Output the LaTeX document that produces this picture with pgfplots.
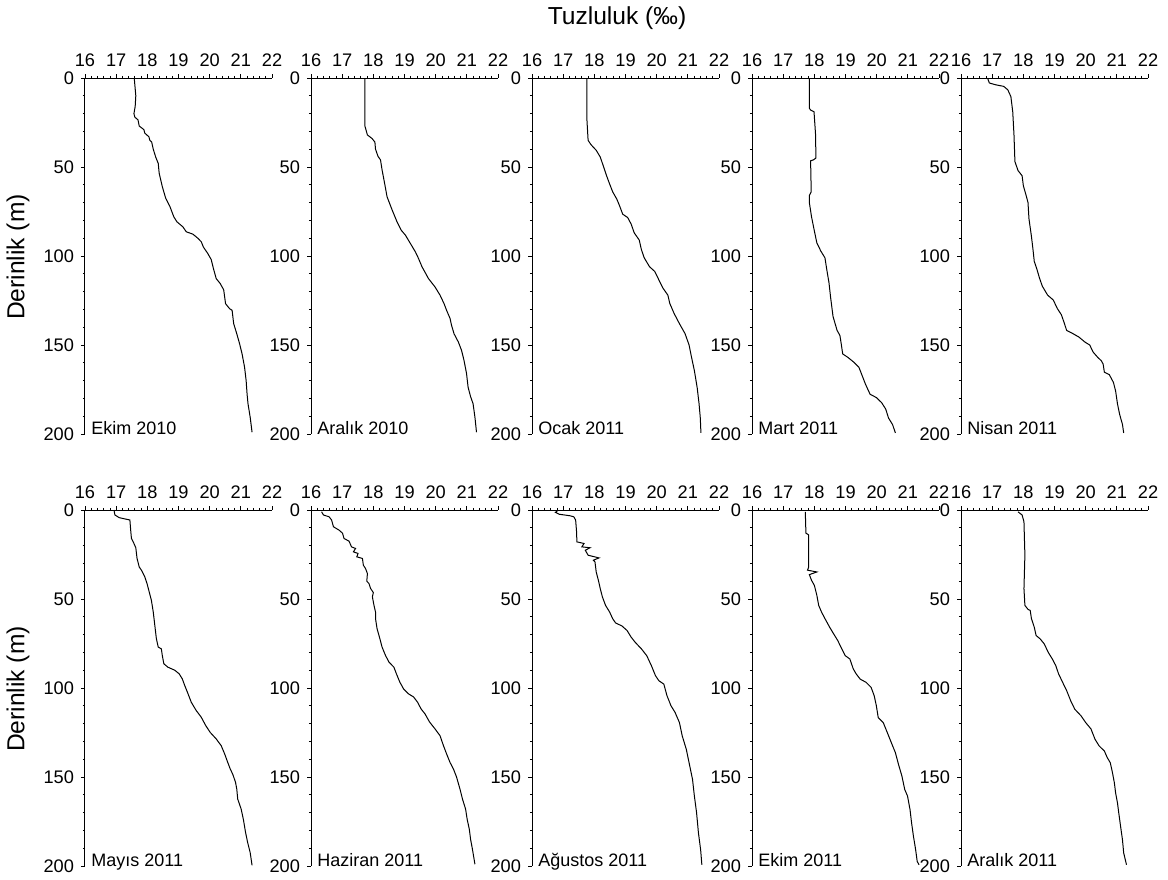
\documentclass[border=0pt]{standalone}
\usepackage{fontspec}
\setmainfont{Liberation Sans}
\usepackage{pgfplots}
\pgfplotsset{compat=1.18}
\pgfplotsset{
 panel/.style={
  scale only axis, width=93.5pt, height=178pt,
  xmin=16, xmax=22, ymin=0, ymax=200, y dir=reverse,
  axis x line=top, axis y line=left,
  axis line style={-, line width=0.5pt},
  xtick={16,17,...,22}, ytick={0,50,...,200},
  minor x tick num=4, minor y tick num=4,
  tick align=outside,
  major tick length=2pt, minor tick length=1.1pt,
  tick style={line width=0.4pt, black},
  tick label style={font=\fontsize{9.1}{10}\selectfont},
  /pgf/number format/assume math mode=true,
  clip=false,
  anchor=north west,
 },
 prof/.style={black, line width=0.5pt, mark=none},
}
\tikzset{lab/.style={anchor=base west, inner sep=0pt, xshift=3pt, font=\fontsize{9}{10}\selectfont}}
\begin{document}
\begin{tikzpicture}[font=\fontsize{9}{10}\selectfont]
\path[use as bounding box] (0,0) rectangle (584pt,-439.5pt);
\node[font=\fontsize{12.3}{14}\selectfont] at (308.5pt,-9pt) {Tuzluluk (‰)};
\node[rotate=90,font=\fontsize{12.3}{14}\selectfont] at (9pt,-128.5pt) {Derinlik (m)};
\node[rotate=90,font=\fontsize{12.3}{14}\selectfont] at (9pt,-344.5pt) {Derinlik (m)};

% Row 1
\begin{axis}[panel, at={(42.5pt,-39pt)}]
\addplot[prof] coordinates {(17.58,0)(17.63,10)(17.61,16)(17.57,20)(17.60,22)(17.70,23.5)(17.74,27)(17.89,29)(17.92,31)(18.05,33)(18.08,35)(18.14,36)(18.19,40)(18.27,44.5)(18.35,48)(18.38,53.5)(18.48,61)(18.59,67.6)(18.72,72)(18.85,78)(18.95,80.8)(19.14,83.6)(19.25,86.4)(19.46,87.7)(19.62,90)(19.73,92)(19.80,95)(19.94,98.6)(20.05,102)(20.12,107)(20.21,112.7)(20.34,115.5)(20.45,119)(20.51,126.8)(20.64,129.6)(20.72,130.5)(20.77,138)(20.87,143.7)(20.96,149.3)(21.04,155)(21.12,162.5)(21.17,170)(21.20,177.5)(21.23,183)(21.30,190.6)(21.36,199)};
\node[lab] at (axis cs:16,200) {Ekim 2010};
\end{axis}
\begin{axis}[panel, at={(155.5pt,-39pt)}]
\addplot[prof] coordinates {(17.73,0)(17.73,27)(17.81,32)(17.96,34)(18.05,36)(18.07,40)(18.15,44)(18.23,46)(18.28,51.6)(18.36,59)(18.44,66.7)(18.60,74)(18.76,80.8)(18.89,85.4)(19.03,88.3)(19.19,93)(19.35,97.7)(19.45,101.4)(19.56,106)(19.77,112.7)(19.98,117.4)(20.14,122)(20.27,126.8)(20.35,130.5)(20.46,135)(20.51,139)(20.59,143.7)(20.73,148.4)(20.83,153)(20.91,158.7)(20.99,166)(21.04,173.7)(21.12,179)(21.20,183)(21.26,190.6)(21.31,199)};
\node[lab] at (axis cs:16,200) {Aralık 2010};
\end{axis}
\begin{axis}[panel, at={(266pt,-39pt)}]
\addplot[prof] coordinates {(17.76,0)(17.76,22.7)(17.80,35)(17.89,37.4)(18.06,40.6)(18.19,44.4)(18.28,49)(18.39,54.8)(18.49,59.5)(18.59,64)(18.72,68)(18.81,71.8)(18.91,76.5)(19.07,78.4)(19.18,82)(19.28,87)(19.44,91)(19.51,96.4)(19.60,101)(19.77,106)(19.94,108.7)(20.07,113.4)(20.20,118)(20.36,122)(20.42,126.6)(20.56,132.3)(20.73,138)(20.91,143.6)(21.04,150)(21.12,157)(21.21,164.4)(21.30,174)(21.36,183)(21.40,191)(21.42,199.4)};
\node[lab] at (axis cs:16,200) {Ocak 2011};
\end{axis}
\begin{axis}[panel, at={(376pt,-39pt)}]
\addplot[prof] coordinates {(17.84,0)(17.84,17)(17.88,18)(17.99,19)(18.04,32)(18.05,45)(17.97,46)(17.88,46.5)(17.90,64)(17.84,66)(17.84,70)(17.91,78)(17.99,85)(18.08,92.6)(18.21,97.3)(18.34,101)(18.40,107.7)(18.47,115)(18.52,123)(18.60,134)(18.73,141.8)(18.82,144.6)(18.86,149)(18.91,155)(19.08,157)(19.27,159.7)(19.43,162.5)(19.53,167)(19.64,172)(19.79,177.7)(19.99,179.5)(20.16,182.4)(20.29,186)(20.38,191)(20.51,194.7)(20.60,199.4)};
\node[lab] at (axis cs:16,200) {Mart 2011};
\end{axis}
\begin{axis}[panel, at={(480.5pt,-39pt)}]
\addplot[prof] coordinates {(16.85,0)(16.91,2.8)(17.11,3.8)(17.37,4.7)(17.50,6.6)(17.60,10.4)(17.66,19)(17.70,32)(17.73,47)(17.83,52)(17.96,54.9)(18.00,60.5)(18.09,66)(18.15,70)(18.18,79)(18.26,89)(18.31,96.4)(18.35,103)(18.44,107.7)(18.52,112.5)(18.61,117)(18.78,122)(18.96,124.7)(19.09,129.5)(19.22,133)(19.30,137)(19.39,141.8)(19.59,143.6)(19.78,145.5)(19.98,148.4)(20.13,150)(20.24,154)(20.39,157)(20.50,158.8)(20.56,160.7)(20.60,165.3)(20.76,166.7)(20.89,171)(20.96,175.8)(21.02,183)(21.09,189)(21.18,194.6)(21.22,199.4)};
\node[lab] at (axis cs:16,200) {Nisan 2011};
\end{axis}

% Row 2
\begin{axis}[panel, at={(42.5pt,-255pt)}]
\addplot[prof] coordinates {(16.93,0)(16.96,2.8)(17.10,4.3)(17.28,5)(17.44,5.6)(17.47,12.2)(17.49,16)(17.57,18.8)(17.63,21.2)(17.67,27.2)(17.74,32)(17.81,33.8)(17.92,37.6)(17.99,41.3)(18.06,46)(18.13,50.7)(18.19,57.3)(18.24,64.8)(18.29,72.3)(18.35,77)(18.45,78)(18.48,81.7)(18.53,86.4)(18.66,88.3)(18.88,90)(19.02,92)(19.12,94.8)(19.20,98.6)(19.30,103)(19.41,108)(19.57,112.7)(19.73,116.4)(19.87,121)(20.02,125)(20.21,128.6)(20.37,132.4)(20.48,137)(20.58,141.8)(20.66,145.5)(20.74,148.4)(20.83,153)(20.87,156.8)(20.90,162.4)(21.01,168)(21.08,173.7)(21.15,181)(21.22,186.9)(21.30,192.5)(21.36,199.6)};
\node[lab] at (axis cs:16,200) {Mayıs 2011};
\end{axis}
\begin{axis}[panel, at={(155.5pt,-255pt)}]
\addplot[prof] coordinates {(16.34,1)(16.40,2.8)(16.58,3.8)(16.66,5.6)(16.72,9.4)(16.90,11.3)(17.01,13)(17.06,16)(17.22,17.5)(17.30,20.7)(17.43,21.6)(17.36,23.5)(17.51,24.4)(17.47,26.3)(17.65,27.2)(17.68,31)(17.75,32.9)(17.81,35.7)(17.79,40)(17.86,41.3)(17.91,44)(18.00,46.4)(17.97,48.8)(18.02,53.5)(18.07,57.3)(18.07,61)(18.12,66.7)(18.21,72.3)(18.28,77)(18.39,81.7)(18.50,85.4)(18.66,88.3)(18.74,92)(18.85,96.7)(18.97,100.5)(19.13,103.3)(19.29,105)(19.42,108)(19.53,111.7)(19.66,114.6)(19.80,119)(19.98,123)(20.14,126.8)(20.25,132.4)(20.35,137)(20.46,141.8)(20.57,145.5)(20.67,150)(20.78,156.8)(20.86,162.4)(20.96,168)(21.01,173.7)(21.08,179.4)(21.12,185)(21.18,190.6)(21.26,199)};
\node[lab] at (axis cs:16,200) {Haziran 2011};
\end{axis}
\begin{axis}[panel, at={(266pt,-255pt)}]
\addplot[prof] coordinates {(16.81,0.6)(16.75,1.3)(16.88,2.4)(17.21,3.2)(17.34,3.8)(17.40,5.6)(17.43,12.2)(17.44,17.9)(17.67,18.8)(17.60,20.7)(17.86,21.2)(17.71,22.6)(17.80,25.4)(18.15,26.9)(17.97,28.2)(18.02,29.1)(18.06,34.8)(18.13,39.5)(18.19,44.2)(18.26,48.9)(18.36,53.6)(18.49,57.3)(18.59,61.1)(18.68,63.4)(18.89,65.2)(19.05,67.7)(19.18,71.4)(19.31,74.3)(19.51,78)(19.68,81.8)(19.83,87.4)(19.96,93)(20.07,95.9)(20.23,97.8)(20.33,104.3)(20.46,110)(20.59,113.7)(20.73,119.4)(20.82,126.9)(20.95,134.4)(21.04,142)(21.15,151.3)(21.21,160.7)(21.28,170)(21.34,181.4)(21.41,190.8)(21.45,199.3)};
\node[lab] at (axis cs:16,200) {Ağustos 2011};
\end{axis}
\begin{axis}[panel, at={(376pt,-255pt)}]
\addplot[prof] coordinates {(17.71,1)(17.73,13)(17.82,14)(17.82,32)(17.78,33.8)(18.08,34.8)(17.84,36.3)(17.91,39.5)(18.00,42.3)(18.08,47.9)(18.14,53.6)(18.23,57.3)(18.34,61)(18.49,65.8)(18.62,69.6)(18.75,73.3)(18.88,78)(18.99,81.8)(19.14,83.7)(19.25,89.3)(19.34,92)(19.47,95)(19.66,96.8)(19.82,99.6)(19.92,104.3)(19.99,110)(20.05,116.6)(20.21,119.4)(20.34,125)(20.47,130.7)(20.60,136.3)(20.70,142.9)(20.81,149.5)(20.90,157)(20.99,160.7)(21.07,168.3)(21.12,175.8)(21.18,183.3)(21.25,190.8)(21.30,197.4)(21.36,199.3)};
\node[lab] at (axis cs:16,200) {Ekim 2011};
\end{axis}
\begin{axis}[panel, at={(480.5pt,-255pt)}]
\addplot[prof] coordinates {(17.83,1)(17.96,2.8)(18.02,6.6)(18.05,25.4)(18.02,44.2)(18.05,53.6)(18.15,55.8)(18.22,56.4)(18.26,61)(18.35,65.8)(18.41,70.5)(18.54,72.4)(18.67,75.2)(18.80,80)(18.93,83.7)(19.04,87.4)(19.13,92)(19.26,96.8)(19.39,101.5)(19.52,107.2)(19.65,111.9)(19.85,115.6)(20.00,119.4)(20.17,123)(20.30,128.8)(20.43,132.5)(20.60,135.4)(20.69,139)(20.79,142)(20.86,147.6)(20.92,153.2)(20.96,158.9)(21.02,164.5)(21.06,170)(21.12,177.7)(21.18,185.2)(21.22,192.7)(21.31,199.3)};
\node[lab] at (axis cs:16,200) {Aralık 2011};
\end{axis}
\end{tikzpicture}
\end{document}
